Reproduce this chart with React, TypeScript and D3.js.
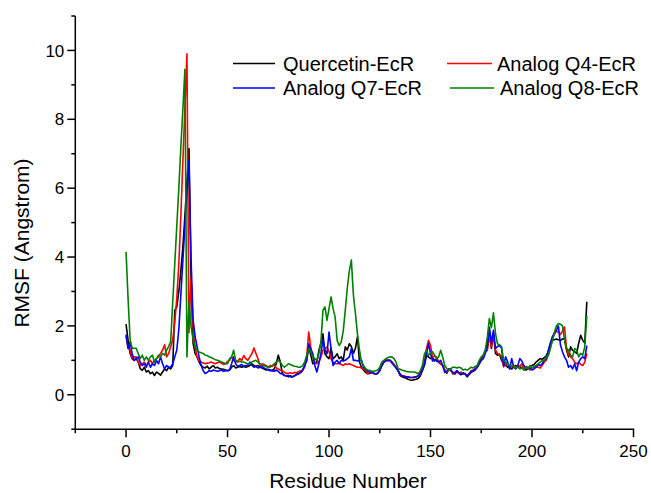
import React from "react";
import * as d3 from "d3";

const seriesNames = ["Quercetin-EcR", "Analog Q4-EcR", "Analog Q7-EcR", "Analog Q8-EcR"];
const seriesColors = ["#000000", "#ff0000", "#0000ff", "#008000"];

const quercetin = [
  2.05, 1.58, 1.2, 1.05, 1.0, 1.05, 0.95, 0.76, 0.71, 0.8,
  0.66, 0.7, 0.61, 0.66, 0.56, 0.66, 0.62, 0.57, 0.66, 0.75,
  0.7, 0.8, 0.75, 0.85, 2.45, 2.55, 3.0, 3.6, 4.3, 5.2,
  6.2, 7.15, 3.5, 1.5, 1.2, 1.1, 0.95, 0.85, 0.8, 0.78,
  0.83, 0.75, 0.8, 0.85, 0.78, 0.8, 0.76, 0.75, 0.74, 0.72,
  0.7, 0.72, 0.8, 0.85, 0.78, 0.8, 0.82, 0.8, 0.83, 0.8,
  0.82, 0.85, 0.9, 0.85, 0.83, 0.85, 0.8, 0.78, 0.75, 0.72,
  0.74, 0.72, 0.7, 0.75, 0.9, 1.15, 0.95, 0.62, 0.56, 0.55,
  0.52, 0.55, 0.52, 0.55, 0.6, 0.62, 0.65, 0.71, 0.85, 1.0,
  1.39, 1.15, 0.9, 0.92, 0.95, 1.29, 1.5, 1.77, 1.19, 1.1,
  1.05, 1.35, 1.05, 1.1, 1.19, 1.05, 1.1, 1.0, 1.39, 1.3,
  1.48, 1.4, 1.2, 1.35, 1.68, 0.95, 0.8, 0.72, 0.65, 0.61,
  0.62, 0.65, 0.62, 0.6, 0.63, 0.7, 0.85, 0.95, 1.0, 1.0,
  1.0, 0.95, 0.88, 0.8, 0.7, 0.56, 0.52, 0.5, 0.48, 0.45,
  0.43, 0.42, 0.44, 0.45, 0.48, 0.55, 0.7, 0.85, 1.14, 1.1,
  1.05, 1.08, 0.98, 1.05, 0.95, 0.9, 0.85, 0.72, 0.62, 0.75,
  0.7, 0.65, 0.6, 0.68, 0.62, 0.58, 0.64, 0.6, 0.52, 0.58,
  0.65, 0.68, 0.72, 0.8, 0.95, 1.05, 1.15, 1.3, 1.5, 1.82,
  1.35, 1.8, 1.2, 1.15, 1.18, 1.0, 0.9, 0.85, 0.8, 0.78,
  0.75, 0.82, 0.85, 0.8, 0.82, 0.78, 0.76, 0.72, 0.75, 0.82,
  0.85, 0.88, 0.95, 1.0, 1.05, 1.03, 1.08, 1.12, 1.25, 1.45,
  1.58, 1.6, 1.62, 1.6, 1.58, 1.62, 1.63, 1.3, 1.1, 1.39,
  1.29, 1.25, 1.2, 1.5, 1.73, 1.58, 1.5, 2.7,
];

const analogQ4 = [
  1.7, 1.35, 1.3, 1.05, 1.1, 1.1, 0.95, 0.85, 0.9, 0.95,
  0.85, 0.95, 1.0, 0.9, 1.0, 1.05, 1.1, 1.2, 1.3, 1.45,
  1.1, 1.2, 1.4, 1.6, 2.1, 2.8, 3.8, 5.2, 6.8, 8.3,
  9.9, 1.8, 3.4, 2.0, 1.4, 1.1, 0.98, 0.95, 0.92, 0.9,
  0.92, 0.93, 0.95, 0.92, 0.9, 0.93, 0.95, 0.92, 0.88, 0.9,
  0.97, 1.0, 1.1, 1.0, 0.95, 0.98, 1.05, 1.0, 1.14, 1.05,
  1.0, 1.1, 1.19, 1.36, 1.2, 1.05, 0.85, 0.9, 0.88, 0.85,
  0.8, 0.85, 0.82, 0.88, 0.78, 0.75, 0.72, 0.7, 0.65, 0.62,
  0.62, 0.64, 0.62, 0.65, 0.64, 0.67, 0.7, 0.72, 0.8, 1.1,
  1.82, 1.39, 1.1, 0.95, 0.9, 0.95, 1.1, 1.29, 1.35, 1.39,
  1.25, 1.05, 0.92, 0.9, 0.9, 0.92, 0.88, 0.85, 0.9, 0.88,
  0.9, 0.87, 0.85, 0.82, 0.8, 0.8, 0.78, 0.76, 0.7, 0.62,
  0.64, 0.66, 0.62, 0.6, 0.63, 0.72, 0.85, 0.95, 0.98, 1.0,
  1.0, 0.95, 0.88, 0.8, 0.72, 0.6, 0.55, 0.55, 0.52, 0.5,
  0.5, 0.5, 0.52, 0.52, 0.55, 0.6, 0.75, 0.95, 1.34, 1.58,
  1.43, 1.1, 1.12, 1.1, 0.95, 0.9, 0.85, 0.72, 0.65, 0.75,
  0.72, 0.6, 0.65, 0.7, 0.62, 0.66, 0.62, 0.6, 0.55, 0.62,
  0.7, 0.72, 0.75, 0.8, 0.9, 1.0, 1.1, 1.25, 1.29, 1.68,
  1.4, 1.73, 1.3, 1.2, 1.15, 1.12, 0.81, 0.9, 0.88, 0.78,
  0.8, 0.85, 0.78, 0.85, 0.82, 0.9, 0.72, 0.82, 0.78, 0.72,
  0.78, 0.8, 0.82, 0.8, 0.78, 0.85, 0.95, 1.0, 1.15, 1.34,
  1.65, 1.75, 1.85, 1.82, 1.75, 1.85, 1.97, 1.35, 1.15, 1.1,
  1.05, 0.95, 0.9, 0.95, 0.88, 0.85, 0.95, 1.2,
];

const analogQ7 = [
  1.75, 1.35, 1.53, 1.2, 1.0, 1.05, 1.1, 0.95, 0.85, 0.9,
  0.8, 0.95, 0.8, 0.9, 0.85, 1.0, 0.9, 1.1, 0.9, 0.75,
  0.85, 0.8, 0.8, 0.9, 1.1, 1.3, 1.9, 2.9, 3.9, 4.9,
  5.9, 6.8, 4.0, 2.2, 1.7, 1.4, 1.1, 0.85, 0.7, 0.62,
  0.65, 0.7, 0.68, 0.72, 0.7, 0.68, 0.7, 0.72, 0.68, 0.7,
  0.7, 0.72, 0.9, 1.1, 0.9, 0.82, 0.85, 0.88, 0.82, 0.85,
  0.85, 0.95, 0.85, 0.8, 0.82, 0.78, 0.8, 0.82, 0.78, 0.75,
  0.72, 0.7, 0.7, 0.68, 0.72, 0.68, 0.62, 0.6, 0.56, 0.55,
  0.56, 0.52, 0.52, 0.55, 0.58, 0.6, 0.65, 0.72, 0.85, 1.0,
  1.48, 1.3, 1.2, 0.85, 0.66, 0.9, 1.2, 1.58, 1.3, 1.19,
  1.82, 1.35, 0.85, 0.95, 1.0, 0.9, 1.0, 0.98, 1.0, 1.05,
  1.1, 1.34, 1.0, 1.0, 0.98, 1.0, 1.0, 0.8, 0.75, 0.68,
  0.66, 0.65, 0.63, 0.6, 0.62, 0.72, 0.85, 0.95, 1.0, 1.0,
  1.0, 0.92, 0.85, 0.78, 0.7, 0.6, 0.55, 0.53, 0.52, 0.52,
  0.5, 0.5, 0.5, 0.52, 0.56, 0.62, 0.75, 0.9, 1.2, 1.48,
  1.2, 0.98, 1.02, 0.98, 0.95, 1.0, 0.85, 0.65, 0.68, 0.75,
  0.72, 0.65, 0.62, 0.7, 0.64, 0.62, 0.6, 0.62, 0.55, 0.6,
  0.68, 0.7, 0.75, 0.8, 0.9, 1.0, 1.05, 1.2, 1.4, 1.97,
  1.5, 1.87, 1.35, 1.4, 1.43, 1.35, 0.85, 1.1, 0.95, 0.75,
  1.05, 0.8, 0.75, 0.85, 1.05, 0.98, 0.85, 0.75, 0.8, 0.78,
  0.72, 0.75, 0.8, 0.88, 0.85, 0.9, 1.0, 1.05, 1.29, 1.5,
  1.68, 1.8, 1.87, 2.0, 1.45, 1.25, 1.1, 1.0, 0.8, 0.85,
  0.75, 0.9, 0.7, 0.95, 1.05, 1.1, 1.05, 1.43,
];

const analogQ8 = [
  4.15, 2.8, 1.6, 1.35, 1.35, 1.35, 1.2, 1.05, 1.15, 1.0,
  1.1, 1.0, 1.1, 1.15, 0.95, 1.05, 1.15, 1.1, 1.2, 1.15,
  1.3, 1.4, 1.55, 2.7, 3.8, 4.9, 6.0, 7.2, 8.3, 9.45,
  1.1, 2.7, 2.0, 1.6, 1.4, 1.29, 1.24, 1.22, 1.2, 1.15,
  1.14, 1.1, 1.08, 1.05, 1.02, 1.0, 0.98, 0.95, 0.93, 0.9,
  0.9, 1.05, 1.1, 1.29, 1.0, 0.95, 0.97, 0.95, 0.95, 0.92,
  0.9, 0.9, 0.95, 0.98, 1.0, 0.95, 0.9, 0.85, 0.85, 0.82,
  0.8, 0.8, 0.85, 0.9, 0.95, 1.0, 0.95, 0.85, 0.8, 0.85,
  0.9, 0.88, 0.85, 0.83, 0.82, 0.8, 0.8, 0.85, 0.95, 1.15,
  1.34, 1.25, 1.1, 1.05, 1.0, 1.2, 1.53, 2.45, 2.55, 2.16,
  2.5, 2.84, 2.5, 2.26, 1.58, 1.43, 1.53, 1.85, 2.45, 3.1,
  3.6, 3.91, 2.9, 2.36, 1.77, 1.3, 0.95, 0.85, 0.76, 0.72,
  0.71, 0.68, 0.68, 0.7, 0.72, 0.8, 0.95, 1.0, 1.05, 1.08,
  1.1, 1.1, 1.05, 0.95, 0.76, 0.74, 0.71, 0.7, 0.68, 0.67,
  0.66, 0.66, 0.66, 0.64, 0.61, 0.7, 0.85, 1.19, 1.29, 1.15,
  1.2, 1.25, 1.15, 1.05, 1.1, 1.29, 1.1, 0.85, 0.76, 0.72,
  0.76, 0.8, 0.8, 0.78, 0.8, 0.78, 0.72, 0.74, 0.72, 0.75,
  0.8, 0.78, 0.82, 0.85, 1.0, 1.1, 1.15, 1.3, 1.68, 2.21,
  1.95, 2.38, 1.78, 1.48, 1.45, 1.4, 1.0, 0.95, 0.9, 0.85,
  0.85, 0.82, 0.78, 0.8, 0.75, 0.78, 0.72, 0.8, 0.75, 0.85,
  0.78, 0.82, 0.85, 0.9, 0.95, 1.0, 1.0, 1.08, 1.15, 1.34,
  1.55, 1.8, 2.0, 2.07, 2.05, 2.0, 1.6, 1.35, 1.3, 1.15,
  1.1, 1.34, 1.3, 1.1, 1.2, 1.15, 1.4, 2.3,
];

const xMajorTicks = [0, 50, 100, 150, 200, 250];
const xMinorTicks = [-25, 25, 75, 125, 175, 225];
const yMajorTicks = [0, 2, 4, 6, 8, 10];
const yMinorTicks = [-1, 1, 3, 5, 7, 9, 11];

const W = 651;
const H = 493;
const FONT = "'Liberation Sans', Arial, sans-serif";

export default function App() {
  const x = d3.scaleLinear().domain([-25, 250]).range([75.3, 633.5]);
  const y = d3.scaleLinear().domain([-1, 11]).range([429.2, 16]);
  const allSeries = [quercetin, analogQ4, analogQ7, analogQ8];
  const line = d3
    .line<number>()
    .x((_, i) => x(i))
    .y((d) => y(d));

  const x0 = x(-25);
  const y0 = y(-1);

  const legend = [
    { i: 0, lx1: 233, lx2: 275, tx: 283, ly: 63.5, ty: 70.5 },
    { i: 1, lx1: 447, lx2: 492, tx: 497, ly: 63.5, ty: 70.5 },
    { i: 2, lx1: 233, lx2: 275, tx: 283, ly: 88, ty: 95 },
    { i: 3, lx1: 450, lx2: 494, tx: 500, ly: 88, ty: 95 },
  ];

  return (
    <svg
      width={W}
      height={H}
      style={{ position: "absolute", left: 0, top: 0, background: "#fff" }}
      fontFamily={FONT}
    >
      <rect x={0} y={0} width={W} height={H} fill="#fff" />
      {allSeries.map((s, k) => (
        <path
          key={k}
          d={line(s) || ""}
          fill="none"
          stroke={seriesColors[k]}
          strokeWidth={1.6}
          strokeLinejoin="round"
        />
      ))}
      <line x1={x0} x2={x0} y1={y(11)} y2={y0 + 0.75} stroke="#000" strokeWidth={1.5} />
      <line x1={x0 - 0.75} x2={x(250) + 0.75} y1={y0} y2={y0} stroke="#000" strokeWidth={1.5} />
      {yMajorTicks.map((t) => (
        <g key={"ym" + t}>
          <line x1={x0 - 8} x2={x0} y1={y(t)} y2={y(t)} stroke="#000" strokeWidth={1.5} />
          <text x={x0 - 11} y={y(t)} dy="0.36em" textAnchor="end" fontSize={17}>
            {t}
          </text>
        </g>
      ))}
      {yMinorTicks.map((t) => (
        <line key={"yn" + t} x1={x0 - 4} x2={x0} y1={y(t)} y2={y(t)} stroke="#000" strokeWidth={1.5} />
      ))}
      {xMajorTicks.map((t) => (
        <g key={"xm" + t}>
          <line x1={x(t)} x2={x(t)} y1={y0} y2={y0 + 8} stroke="#000" strokeWidth={1.5} />
          <text x={x(t)} y={y0 + 28} textAnchor="middle" fontSize={17}>
            {t}
          </text>
        </g>
      ))}
      {xMinorTicks.map((t) => (
        <line key={"xn" + t} x1={x(t)} x2={x(t)} y1={y0} y2={y0 + 4} stroke="#000" strokeWidth={1.5} />
      ))}
      <text x={348} y={488} textAnchor="middle" fontSize={21}>
        Residue Number
      </text>
      <text transform={`translate(29, 243) rotate(-90)`} textAnchor="middle" fontSize={21}>
        RMSF (Angstrom)
      </text>
      {legend.map((l) => (
        <g key={"lg" + l.i}>
          <line x1={l.lx1} x2={l.lx2} y1={l.ly} y2={l.ly} stroke={seriesColors[l.i]} strokeWidth={1.6} />
          <text x={l.tx} y={l.ty} fontSize={20}>
            {seriesNames[l.i]}
          </text>
        </g>
      ))}
    </svg>
  );
}
